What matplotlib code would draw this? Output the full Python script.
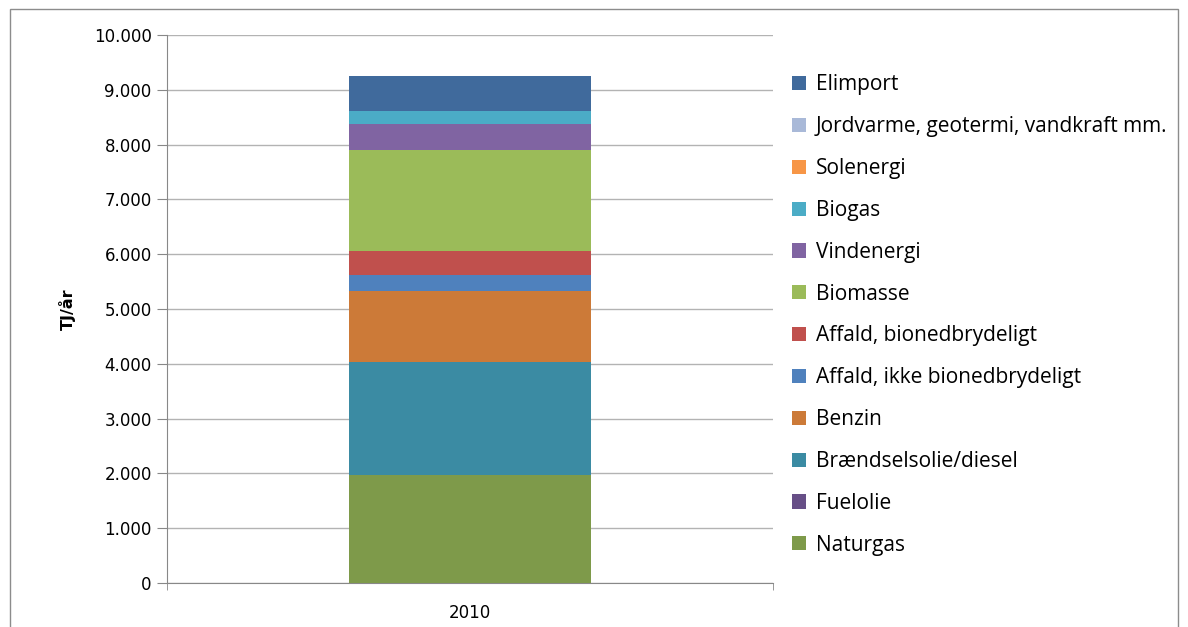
import matplotlib.pyplot as plt
from matplotlib.patches import Rectangle
from matplotlib.ticker import FuncFormatter

# Energy supply 2010, TJ per year (stacked bottom -> top)
years = ['2010']
sources = ['Naturgas', 'Fuelolie', 'Brændselsolie/diesel', 'Benzin',
           'Affald, ikke bionedbrydeligt', 'Affald, bionedbrydeligt',
           'Biomasse', 'Vindenergi', 'Biogas', 'Solenergi',
           'Jordvarme, geotermi, vandkraft mm.', 'Elimport']
values = [1970, 0, 2063, 1295, 292, 438, 1843, 475, 237, 0, 0, 639]
colors = ['#7E9A4A', '#674F87', '#3B8BA3', '#CC7A38', '#4F81BD', '#C0504D',
          '#9BBB59', '#8064A2', '#4BACC6', '#F79646', '#A9B9D8', '#406A9C']

fig = plt.figure(figsize=(11.88, 6.27), dpi=100)
ax = fig.add_axes([167 / 1188, 1 - 583 / 627, 606 / 1188, 548 / 627])

# outer chart border
fig.patches.append(Rectangle((10 / 1188, -0.05), 1168 / 1188, 1 - 9 / 627 + 0.05,
                             transform=fig.transFigure, fill=False,
                             edgecolor='#8C8C8C', linewidth=1))

bottom = 0
handles = []
for name, val, col in zip(sources, values, colors):
    b = ax.bar(years, [val], bottom=bottom, width=0.4, color=col, label=name, zorder=3)
    handles.append(b)
    bottom += val

ax.set_xlim(-0.5, 0.5)
ax.set_ylim(0, 10000)
ax.set_yticks(range(0, 10001, 1000))
ax.yaxis.set_major_formatter(FuncFormatter(lambda v, p: f'{int(v):,}'.replace(',', '.')))
ax.grid(axis='y', color='#B3B3B3', linewidth=1, zorder=0)
for s in ['top', 'right']:
    ax.spines[s].set_visible(False)
for s in ['left', 'bottom']:
    ax.spines[s].set_color('#888888')
ax.tick_params(axis='y', length=7, color='#888888', labelsize=12, pad=4)
ax.tick_params(axis='x', length=0, labelsize=12, pad=15)
# category boundary ticks below the x axis
ax.set_xticks([-0.5, 0.5], minor=True)
ax.tick_params(axis='x', which='minor', length=5, color='#888888')
for lbl in ax.get_yticklabels() + ax.get_xticklabels():
    lbl.set_fontfamily('DejaVu Sans')
ax.set_ylabel('TJ/år', fontsize=11.5, fontweight='bold', family='DejaVu Sans')
ax.yaxis.set_label_coords(-0.15, 0.5)

leg = fig.legend(handles[::-1], sources[::-1], loc='upper left',
                 bbox_to_anchor=(782 / 1188, 1 - 64 / 627), frameon=False,
                 prop={'family': 'Open Sans', 'size': 15},
                 handlelength=0.67, handleheight=0.67, handletextpad=0.45,
                 labelspacing=1.0, borderpad=0)

fig.savefig('out.png', dpi=100)
